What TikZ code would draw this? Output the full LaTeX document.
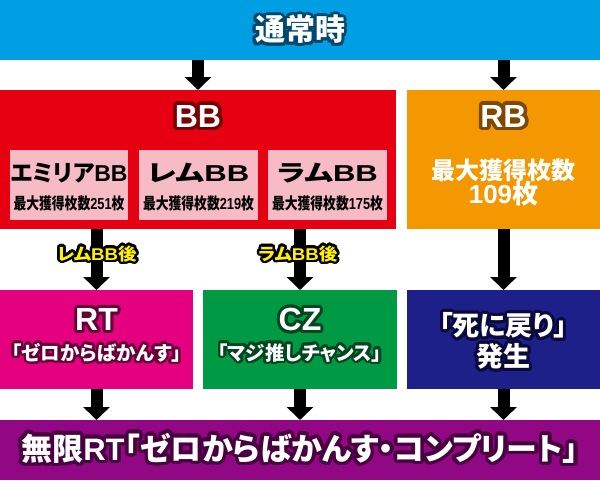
\documentclass[tikz,border=0pt]{standalone}
\usepackage{fontspec}
\usepackage{graphicx}
\usepackage{contour}
\usetikzlibrary{arrows.meta}
\setmainfont{Noto Sans CJK JP}[RawFeature=+palt]
\newfontfamily\en{Liberation Sans}
\contournumber{24}
\definecolor{cTop}{RGB}{0,159,227}
\definecolor{cTopD}{RGB}{0,72,110}
\definecolor{cRed}{RGB}{230,0,18}
\definecolor{cRedD}{RGB}{120,0,0}
\definecolor{cPink}{RGB}{246,187,196}
\definecolor{cOra}{RGB}{243,152,0}
\definecolor{cOraD}{RGB}{125,72,0}
\definecolor{cMag}{RGB}{228,0,127}
\definecolor{cMagD}{RGB}{100,0,55}
\definecolor{cGrn}{RGB}{0,153,68}
\definecolor{cGrnD}{RGB}{0,70,30}
\definecolor{cNav}{RGB}{29,32,136}
\definecolor{cNavD}{RGB}{10,10,60}
\definecolor{cPur}{RGB}{146,7,131}
\definecolor{cPurD}{RGB}{72,0,64}
\definecolor{cYel}{RGB}{255,241,0}
\begin{document}
\begin{tikzpicture}[x=1pt,y=-1pt,
  box/.style={anchor=north west,inner sep=0pt,outer sep=0pt,draw=none,rectangle},
  txt/.style={inner sep=0pt,outer sep=0pt,align=center,font=\bfseries},
  arr/.style={line width=12pt,-{Triangle[length=13pt 0,width=26pt 0]}}]
\useasboundingbox (0,0) rectangle (600,480);
% boxes
\node[box,fill=cTop,minimum width=600pt,minimum height=60pt] (top) at (0,0) {};
\node[box,fill=cRed,minimum width=396pt,minimum height=139pt] (bb) at (0,90) {};
\node[box,fill=cPink,minimum width=118pt,minimum height=70pt] (p1) at (10,150) {};
\node[box,fill=cPink,minimum width=119pt,minimum height=70pt] (p2) at (139,150) {};
\node[box,fill=cPink,minimum width=119pt,minimum height=70pt] (p3) at (268,150) {};
\node[box,fill=cOra,minimum width=193pt,minimum height=139pt] (rb) at (407,90) {};
\node[box,fill=cMag,minimum width=193pt,minimum height=99pt] (rt) at (0,290) {};
\node[box,fill=cGrn,minimum width=194pt,minimum height=99pt] (cz) at (203,290) {};
\node[box,fill=cNav,minimum width=193pt,minimum height=99pt] (sd) at (407,290) {};
\node[box,fill=cPur,minimum width=600pt,minimum height=60pt] (bot) at (0,420) {};
% arrows
\draw[arr] (top.south -| bb.north) -- (bb.north);
\draw[arr] (top.south -| rb.north) -- (rb.north);
\draw[arr] (bb.south -| rt.north) -- (rt.north);
\draw[arr] (bb.south -| cz.north) -- (cz.north);
\draw[arr] (rb.south) -- (sd.north);
\draw[arr] (rt.south) -- (rt.south |- bot.north);
\draw[arr] (cz.south) -- (cz.south |- bot.north);
\draw[arr] (sd.south) -- (sd.south |- bot.north);
% texts
\node[txt,text=white,font=\bfseries\fontsize{30}{32}\selectfont] (t0) at (300,31)
  {\contourlength{3pt}\contour{cTopD}{通常時}};
\node[txt,text=white,font=\bfseries\fontsize{32}{34}\selectfont] (t1) at (198,118)
  {\contourlength{3.5pt}\contour{cRedD}{\en\bfseries BB}};
\node[txt,text=black,font=\bfseries\fontsize{23}{25}\selectfont] (s1a) at (69,173)
  {エミリア{\en\bfseries BB}};
\node[txt,text=black,font=\bfseries\fontsize{16}{18}\selectfont] (s1b) at (69,203)
  {\scalebox{0.8}[1]{最大獲得枚数{\en\bfseries 251}枚}};
\node[txt,text=black,font=\bfseries\fontsize{23}{25}\selectfont] (s2a) at (198.5,173)
  {\scalebox{1.35}[1]{レム{\en\bfseries BB}}};
\node[txt,text=black,font=\bfseries\fontsize{16}{18}\selectfont] (s2b) at (198.5,203)
  {\scalebox{0.8}[1]{最大獲得枚数{\en\bfseries 219}枚}};
\node[txt,text=black,font=\bfseries\fontsize{23}{25}\selectfont] (s3a) at (327.5,173)
  {\scalebox{1.35}[1]{ラム{\en\bfseries BB}}};
\node[txt,text=black,font=\bfseries\fontsize{16}{18}\selectfont] (s3b) at (327.5,203)
  {\scalebox{0.8}[1]{最大獲得枚数{\en\bfseries 175}枚}};
\node[txt,text=white,font=\bfseries\fontsize{32}{34}\selectfont] (r1) at (503.5,118)
  {\contourlength{3.5pt}\contour{cOraD}{\en\bfseries RB}};
\node[txt,text=white,font=\bfseries\fontsize{24}{26}\selectfont] (r2) at (503.5,170)
  {最大獲得枚数};
\node[txt,text=white,font=\bfseries\fontsize{26}{28}\selectfont] (r3) at (503.5,194)
  {{\en\bfseries 109}枚};
\node[txt,text=cYel,font=\bfseries\fontsize{17}{19}\selectfont] (l1) at (97,255)
  {\contourlength{2.5pt}\contour{black}{\scalebox{1.1}[1]{レム{\en\bfseries BB}後}}};
\node[txt,text=cYel,font=\bfseries\fontsize{17}{19}\selectfont] (l2) at (298,255)
  {\contourlength{2.5pt}\contour{black}{\scalebox{1.1}[1]{ラム{\en\bfseries BB}後}}};
\node[txt,text=white,font=\bfseries\fontsize{32}{34}\selectfont] (m1) at (96.5,321)
  {\contourlength{3pt}\contour{cMagD}{\en\bfseries RT}};
\node[txt,text=white,font=\bfseries\fontsize{19.5}{21}\selectfont] (m2) at (96.5,354)
  {\contourlength{2.5pt}\contour{cMagD}{「ゼロからばかんす」}};
\node[txt,text=white,font=\bfseries\fontsize{32}{34}\selectfont] (g1) at (300,321)
  {\contourlength{3pt}\contour{cGrnD}{\en\bfseries CZ}};
\node[txt,text=white,font=\bfseries\fontsize{19.5}{21}\selectfont] (g2) at (300,354)
  {\contourlength{2.5pt}\contour{cGrnD}{「マジ推しチャンス」}};
\node[txt,text=white,font=\bfseries\fontsize{27}{29}\selectfont] (n1) at (503.5,327)
  {\contourlength{3pt}\contour{cNavD}{「死に戻り」}};
\node[txt,text=white,font=\bfseries\fontsize{27}{29}\selectfont] (n2) at (503.5,358)
  {\contourlength{3pt}\contour{cNavD}{発生}};
\node[txt,text=white,font=\bfseries\fontsize{31}{33}\selectfont] (b1) at (300,450)
  {\contourlength{3.5pt}\contour{cPurD}{無限{\en\bfseries RT}「ゼロからばかんす・コンプリート」}};
\end{tikzpicture}
\end{document}
